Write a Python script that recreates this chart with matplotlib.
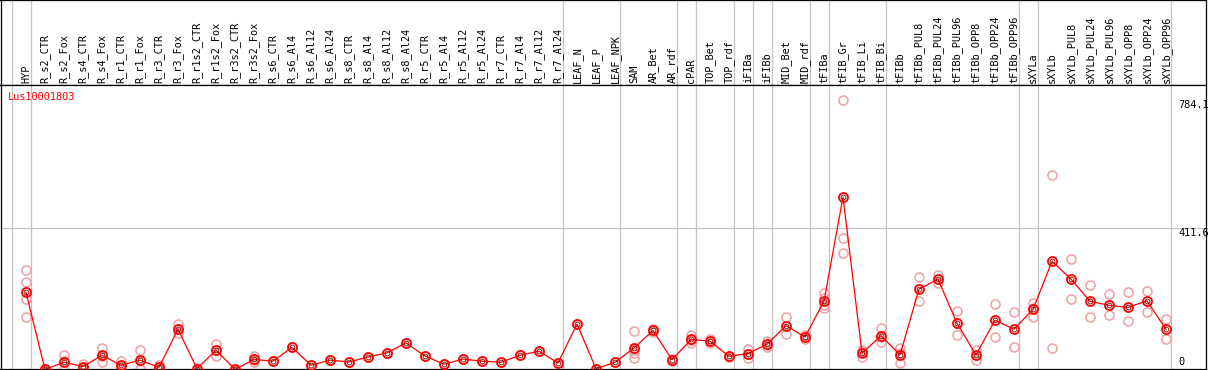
import matplotlib
matplotlib.use("Agg")
import matplotlib.pyplot as plt

# sample columns, left to right
samples = [
    "HYP", "R_s2_CTR", "R_s2_Fox", "R_s4_CTR", "R_s4_Fox", "R_r1_CTR", "R_r1_Fox",
    "R_r3_CTR", "R_r3_Fox", "R_r1s2_CTR", "R_r1s2_Fox", "R_r3s2_CTR", "R_r3s2_Fox",
    "R_s6_CTR", "R_s6_Al4", "R_s6_Al12", "R_s6_Al24", "R_s8_CTR", "R_s8_Al4",
    "R_s8_Al12", "R_s8_Al24", "R_r5_CTR", "R_r5_Al4", "R_r5_Al12", "R_r5_Al24",
    "R_r7_CTR", "R_r7_Al4", "R_r7_Al12", "R_r7_Al24", "LEAF_N", "LEAF_P", "LEAF_NPK",
    "SAM", "AR_Bet", "AR_rdf", "cPAR", "TOP_Bet", "TOP_rdf", "iFIBa", "iFIBb",
    "MID_Bet", "MID_rdf", "tFIBa", "tFIB_Gr", "tFIB_Li", "tFIB_Bi", "tFIBb",
    "tFIBb_PUL8", "tFIBb_PUL24", "tFIBb_PUL96", "tFIBb_OPP8", "tFIBb_OPP24",
    "tFIBb_OPP96", "sXYLa", "sXYLb", "sXYLb_PUL8", "sXYLb_PUL24", "sXYLb_PUL96",
    "sXYLb_OPP8", "sXYLb_OPP24", "sXYLb_OPP96",
]

# mean expression per sample
means = [
    226, 2, 23, 10, 43, 14, 29, 8, 119, 4, 58, 2, 31,
    26, 66, 14, 29, 23.5, 38, 50, 79, 41, 17, 32, 26,
    22.6, 43, 55, 20.6, 134, 4, 22.6,
    64, 115, 30, 89, 84, 40, 48, 75, 129, 96, 200, 502.4, 49, 100, 44,
    235, 264, 136, 44, 145, 119, 176, 316, 264, 200, 188, 182, 201, 118,
]

# replicate values per sample
replicates = [
    [290, 255, 206, 153], [2, 0, 4], [43, 0, 25], [18, 6, 7], [64, 23, 42],
    [27, 4, 12], [58, 2, 27], [14, 2, 8], [133, 107, 118], [5, 3],
    [76, 41, 57], [2, 1], [40, 23, 30],
    [26], [66], [14], [29], [23.5], [38], [50], [79], [41], [17], [32], [26],
    [22.6], [43], [55], [20.6], [134], [4], [22.6],
    [114, 49, 35, 58], [118, 112], [33, 27], [101, 80, 87], [89, 80], [42, 38],
    [62, 35, 47], [85, 66, 74], [154, 104], [101, 90], [225, 188, 179, 209],
    [784.1, 383, 340], [58, 37, 52], [123, 81, 96], [63, 20, 49],
    [270, 200], [275, 252], [172, 101], [58, 29], [191, 95], [168, 67],
    [194, 153, 181], [566, 64], [323, 206], [246, 153], [221, 159], [227, 143],
    [230, 169], [147, 89],
]

# group separators sit just right of these sample indices
separators = [-1, 0, 28, 31, 34, 35, 37, 38, 39, 41, 42, 45, 52, 53, 60]

gene = "Lus10001803"
y_max = 784.1
y_mid = 411.6

W, H = 1209, 370
fig = plt.figure(figsize=(W / 100, H / 100), dpi=100)
plt.rcParams["font.family"] = "DejaVu Sans Mono"

x0, x1 = 0.5, 1205.5
head_h = 85
ax_h = fig.add_axes([x0 / W, (H - head_h) / H, (x1 - x0) / W, head_h / H])
ax = fig.add_axes([x0 / W, 1 / H, (x1 - x0) / W, (H - head_h - 1) / H])

xlim = ((x0 - 26) / 19, (x1 - 26) / 19)
for a in (ax_h, ax):
    a.set_xlim(*xlim)
    a.set_xticks([])
    a.set_yticks([])
    for s in a.spines.values():
        s.set_color("black")
        s.set_linewidth(0.9)
    for sep in separators:
        a.axvline(sep + 0.24, color="#c4c4c4", lw=0.9, zorder=0)

ax_h.set_ylim(0, head_h)
for i, name in enumerate(samples):
    ax_h.text(i, 2, name, rotation=90, ha="center", va="bottom", fontsize=7.4)

ax.set_ylim(3.2, 827.6)
ax.axhline(y_mid, color="#c4c4c4", lw=0.9, zorder=0)

xs = list(range(len(samples)))
for i, vals in enumerate(replicates):
    ax.plot([i] * len(vals), vals, "o", ms=6.5, mfc="none", mec="#f0a0a0",
            mew=1.1, clip_on=False, zorder=2)
ax.plot(xs, means, "-", color="red", lw=0.9, zorder=3)
ax.plot(xs, means, "o", ms=6.5, mfc="none", mec="red", mew=1.3,
        clip_on=False, zorder=4)
ax.plot(xs, means, "o", ms=3.5, mfc="none", mec="#700000", mew=0.6,
        clip_on=False, zorder=5)

ax.text(-0.95, 793, gene, color="red", fontsize=7.4, va="center", ha="left")
ax.text(60.63, y_max, f"{y_max}", fontsize=7.4, va="top", ha="left")
ax.text(60.63, y_mid, f"{y_mid}", fontsize=7.4, va="top", ha="left")
ax.text(60.63, 8, "0", fontsize=7.4, va="bottom", ha="left")

fig.savefig("out.png", dpi=100)
